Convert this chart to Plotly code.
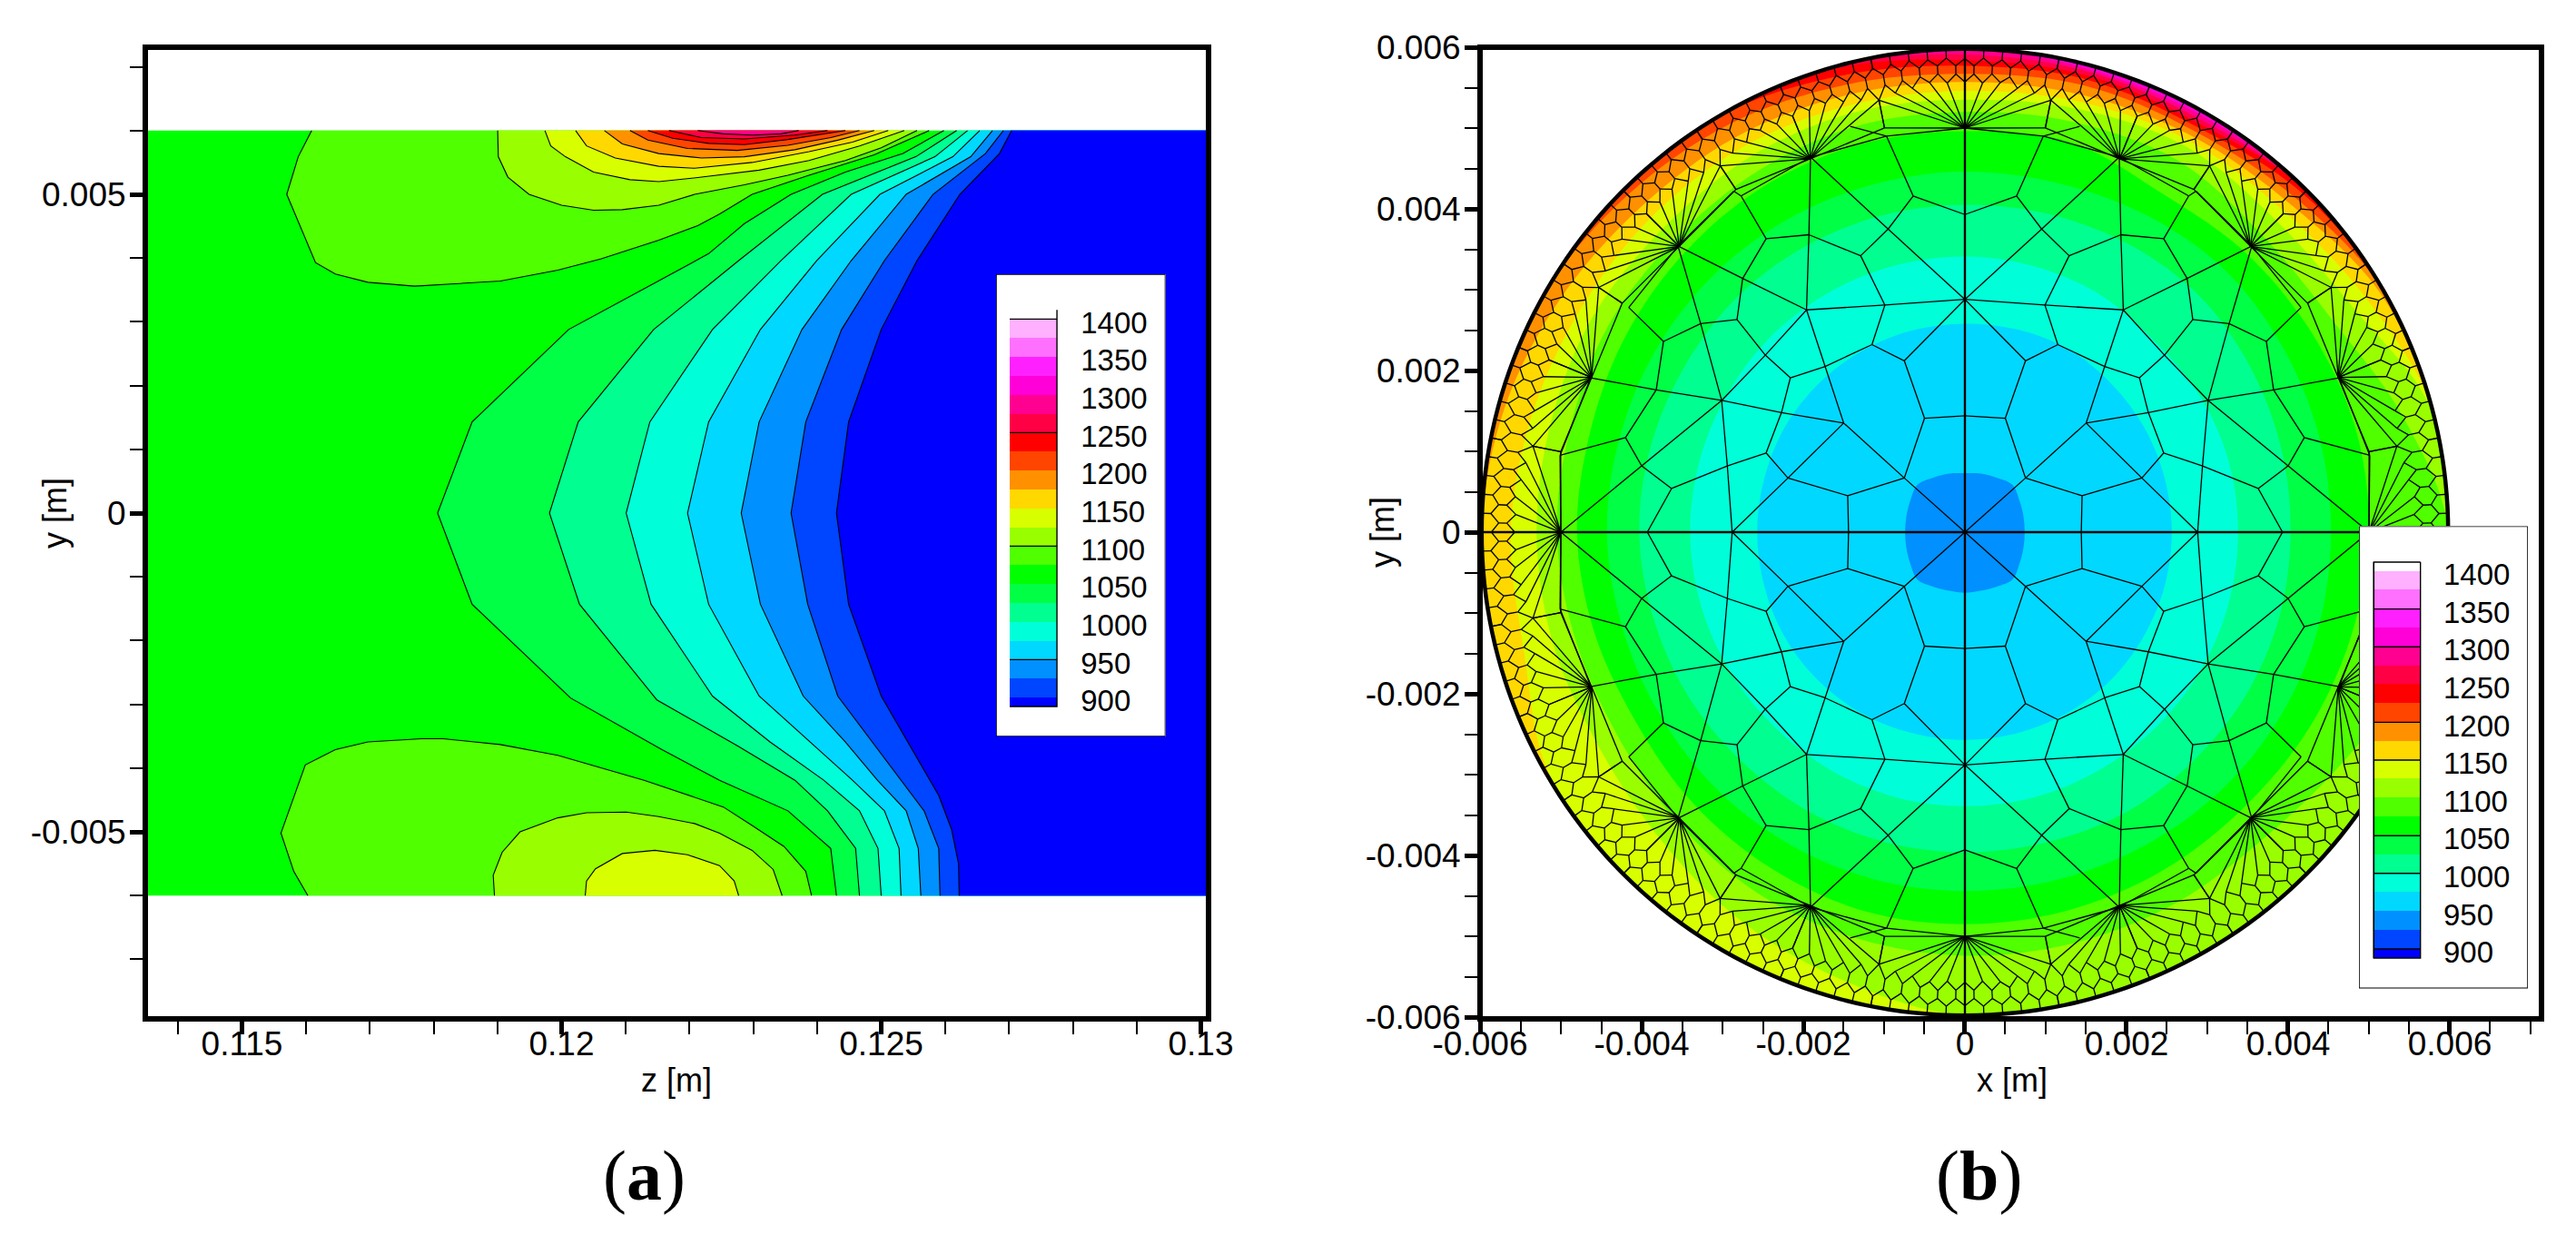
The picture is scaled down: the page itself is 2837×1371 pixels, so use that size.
import numpy as np
import plotly.graph_objects as go

W, H = 2837, 1371
# ---------- legend / colour bands (temperature levels) ----------
legend_labels = [900, 950, 1000, 1050, 1100, 1150, 1200, 1250, 1300, 1350, 1400]
band_edges = [888, 900, 925, 950, 975, 1000, 1025, 1050, 1075, 1100, 1125, 1150, 1175,
              1200, 1225, 1250, 1275, 1300, 1325, 1350, 1375, 1400, 1412]
band_colors = ["#0000ff", "#0045ff", "#0090ff", "#00d8ff", "#00ffd8", "#00ff90", "#00ff45",
               "#00ff00", "#50ff00", "#99ff00", "#d8ff00", "#ffd800", "#ff9000", "#ff4500",
               "#ff0000", "#ff0045", "#ff0090", "#ff00d8", "#ff20ff", "#ff70ff", "#ffb0ff", "#ffffff"]
def below(level):
    return band_colors[band_edges.index(level) - 1]
def above(level):
    return band_colors[band_edges.index(level)]

# ---------- panel (a): isotherms, z [mm], y [mm] ----------
iso_1050 = ([125.98,125.34,124.44,123.59,122.86,122.30,121.46,120.11,118.60,118.06,118.60,120.14,121.57,122.47,123.54,124.21,124.30],
            [6,5.64,5.35,5.0,4.54,4.07,3.61,2.88,1.43,0,-1.43,-2.90,-3.71,-4.19,-4.67,-5.26,-6])
iso_1025 = ([126.18,125.54,124.08,122.77,121.44,120.26,119.81,120.28,121.49,122.75,123.65,124.16,124.60,124.66],
            [6,5.59,5.0,3.96,2.88,1.43,0,-1.43,-2.93,-3.65,-4.19,-4.67,-5.26,-6])
iso_1000 = ([126.35,125.84,124.53,123.43,122.36,121.38,121.01,121.40,122.36,123.26,124.10,124.66,124.95,125.00],
            [6,5.59,5.0,3.96,2.88,1.43,0,-1.43,-2.87,-3.59,-4.19,-4.67,-5.26,-6])
iso_975 = ([126.54,126.12,124.98,123.99,123.11,122.30,121.97,122.30,123.09,123.88,124.55,125.05,125.28,125.31],
           [6,5.59,5.0,3.96,2.88,1.43,0,-1.43,-2.87,-3.59,-4.19,-4.67,-5.26,-6])
iso_950 = ([126.74,126.40,125.39,124.53,123.76,123.09,122.81,123.11,123.78,124.44,124.94,125.39,125.58,125.62],
           [6,5.59,5.0,3.96,2.88,1.43,0,-1.43,-2.87,-3.59,-4.19,-4.67,-5.26,-6])
iso_925 = ([126.91,126.63,125.81,125.05,124.38,123.82,123.59,123.85,124.32,125.00,125.67,125.90,125.92],
           [6,5.64,5.0,3.96,2.88,1.43,0,-1.43,-2.87,-3.77,-4.67,-5.26,-6])
iso_900 = ([127.04,126.85,126.23,125.56,125.00,124.49,124.30,124.49,125.00,125.45,125.90,126.10,126.21,126.22],
           [6,5.64,5.0,3.96,2.88,1.43,0,-1.43,-2.87,-3.65,-4.43,-4.96,-5.50,-6])
cold_lines = {1050: iso_1050, 1025: iso_1025, 1000: iso_1000, 975: iso_975, 950: iso_950, 925: iso_925, 900: iso_900}

hot_top = {
 1075: ([116.09,115.88,115.70,116.15,116.46,116.97,117.70,119.04,119.94,120.62,121.52,122.13,122.47,122.98,123.87,124.89,125.75],
        [6,5.59,5.0,3.93,3.75,3.62,3.56,3.64,3.81,3.99,4.28,4.51,4.69,5.0,5.3,5.62,6]),
 1100: ([119.0,119.01,119.16,119.49,120.0,120.50,120.95,121.52,122.08,122.86,123.54,124.44,125.0,125.56],
        [6,5.59,5.27,5.0,4.83,4.75,4.76,4.83,5.0,5.15,5.3,5.53,5.73,6]),
 1125: ([119.74,119.83,120.06,120.50,121.07,121.52,122.19,123.09,123.87,124.66,125.36],
        [6,5.76,5.59,5.35,5.23,5.2,5.27,5.38,5.53,5.76,6]),
 1150: ([120.22,120.39,120.84,121.52,122.08,122.98,123.87,124.55,125.11],
        [6,5.76,5.57,5.44,5.41,5.5,5.67,5.82,6]),
 1175: ([120.67,120.95,121.52,122.19,122.86,123.65,124.32,124.89],
        [6,5.79,5.64,5.57,5.59,5.7,5.85,6]),
 1200: ([121.07,121.35,121.97,122.75,123.54,124.21,124.66],
        [6,5.85,5.72,5.69,5.77,5.89,6]),
 1225: ([121.35,121.74,122.30,122.86,123.54,124.44],
        [6,5.88,5.8,5.78,5.86,6]),
 1250: ([121.68,122.19,122.86,123.65,124.16],
        [6,5.89,5.87,5.93,6]),
 1275: ([122.13,122.53,122.98,123.43,123.71],
        [6,5.95,5.93,5.95,6]),
}
hot_bottom = {
 1075: ([116.03,115.81,115.61,115.99,116.46,116.97,117.81,118.15,119.04,119.94,121.29,122.53,122.98,123.48,123.82,123.91],
        [-6,-5.62,-5.02,-3.95,-3.71,-3.59,-3.54,-3.54,-3.63,-3.80,-4.19,-4.61,-4.90,-5.23,-5.62,-6]),
 1100: ([118.95,118.93,119.07,119.35,119.94,120.39,121.01,121.52,122.08,122.47,122.98,123.31,123.45],
        [-6,-5.68,-5.32,-5.0,-4.78,-4.70,-4.69,-4.76,-4.87,-5.02,-5.29,-5.59,-6]),
 1125: ([120.37,120.39,120.53,120.95,121.46,121.97,122.47,122.70,122.77],
        [-6,-5.77,-5.58,-5.34,-5.29,-5.36,-5.53,-5.77,-6]),
}

# ---------- panel (b): isotherm radius [mm] per angle [deg] ----------
iso_angles = [0,15,30,45,60,75,90,105,120,135,150,165,180,195,210,225,240,255,270,285,300,315,330,345]
C = 5.98
r_950 = [.74,.75,.78,.83,.78,.75,.73,.75,.78,.83,.78,.75,.74,.75,.78,.83,.78,.75,.75,.75,.78,.83,.78,.75]
r_975 = [2.56,2.56,2.57,2.58,2.60,2.59,2.58,2.58,2.58,2.58,2.58,2.57,2.57,2.57,2.58,2.58,2.58,2.57,2.57,2.57,2.57,2.57,2.56,2.56]
r_1000 = [3.38,3.38,3.36,3.33,3.38,3.40,3.41,3.41,3.41,3.41,3.40,3.40,3.40,3.39,3.38,3.37,3.38,3.39,3.39,3.39,3.38,3.38,3.38,3.38]
r_1025 = [4.03,4.05,4.08,4.12,4.10,4.07,4.05,4.05,4.05,4.05,4.03,4.03,4.03,4.0,3.98,3.96,3.96,3.96,3.96,3.97,4.0,4.0,4.02,4.03]
r_1050 = [4.53,4.54,4.55,4.57,4.52,4.47,4.46,4.45,4.45,4.45,4.44,4.43,4.43,4.40,4.40,4.42,4.43,4.44,4.44,4.45,4.47,4.50,4.52,4.53]
r_1075 = [5.0,5.0,4.95,4.9,4.85,5.0,4.96,4.97,4.95,4.9,4.85,4.8,4.8,4.75,4.7,4.75,4.8,4.85,4.85,4.85,4.85,4.85,4.9,4.95]
r_1100 = [C,5.6,5.25,5.2,5.3,5.25,5.2,5.2,5.15,5.1,5.1,5.05,5.05,5.0,4.98,5.05,5.15,5.2,5.24,5.26,5.28,5.3,5.5,5.85]
r_1125 = [C,5.96,5.55,5.45,5.5,5.42,5.35,5.37,5.35,5.3,5.32,5.3,5.3,5.28,5.25,5.35,5.55,5.75,C,C,C,C,C,C]
r_1150 = [C,C,5.75,5.6,5.58,5.51,5.46,5.47,5.5,5.5,5.5,5.55,5.62,5.65,5.95,C,C,C,C,C,C,C,C,C]
r_1175 = [C,C,5.93,5.72,5.65,5.6,5.57,5.6,5.65,5.68,5.78,5.9,C,C,C,C,C,C,C,C,C,C,C,C]
r_1200 = [C,C,C,5.82,5.72,5.72,5.67,5.73,5.83,5.9,C,C,C,C,C,C,C,C,C,C,C,C,C,C]
r_1225 = [C,C,C,5.92,5.78,5.8,5.77,5.85,5.97,C,C,C,C,C,C,C,C,C,C,C,C,C,C,C]
r_1250 = [C,C,C,C,5.83,5.85,5.84,5.95,C,C,C,C,C,C,C,C,C,C,C,C,C,C,C,C]
r_1275 = [C,C,C,C,5.88,5.9,5.91,C,C,C,C,C,C,C,C,C,C,C,C,C,C,C,C,C]
r_1300 = [C,C,C,C,5.93,5.93,C,C,C,C,C,C,C,C,C,C,C,C,C,C,C,C,C,C]
b_levels = {1300:r_1300,1275:r_1275,1250:r_1250,1225:r_1225,1200:r_1200,1175:r_1175,1150:r_1150,1125:r_1125,
            1100:r_1100,1075:r_1075,1050:r_1050,1025:r_1025,1000:r_1000,975:r_975,950:r_950}

# ---------- panel (b): mesh, upper-left quadrant nodes [mm] ----------
nodes = dict(O=(0,0),A=(-.75,.67),B=(-1.50,1.35),Cc=(0,1.44),D=(-.50,1.41),E=(-1.45,.45),E0=(-1.44,0),F=(-2.88,0),G=(-2.19,.67),
 H=(-.75,2.12),I=(-1.15,2.32),J=(-1.73,2.05),K=(-2.16,1.91),L=(-2.47,2.19),M=(-2.27,1.48),N=(-3.01,1.63),Oo=(-2.46,.98),
 P=(-2.94,.82),Q=(-3.63,.54),Q0=(-3.93,0),R=(-4.0,.82),S=(-4.2,1.17),T=(-5.01,.95),T0=(-5.0,0),U=(-3.82,1.76),V=(-4.63,1.91),
 W=(-3.73,2.36),X=(-4.16,2.78),Y=(-3.55,3.54),Z=(-3.27,2.58),a=(-2.82,2.63),b=(-2.75,3.14),c=(-1.96,2.75),d=(-.99,2.81),
 e=(0,2.88),f=(-1.29,3.42),g=(-1.93,3.68),h=(-2.46,3.63),i=(-2.77,4.16),i2=(-2.86,4.22),j=(-1.91,4.64),k=(-.95,3.75),l=(-.64,4.16),
 m=(0,3.93),n=(0,5.0),o=(-.97,4.9),p=(-1.42,5.02))
mesh_chains = [["O","A","B","J","c","g","j"],["A","D","H","e"],["D","Cc"],["A","E","E0"],["E","G","B"],["G","F"],
 ["G","Oo","M","K","J"],["Oo","P","Q","Q0"],["N","P","F"],["Q","R","S","U"],["S","T","T0"],["T0","R","N"],
 ["V","U","N","M","B"],["U","W","X"],["W","Z","a","b"],["a","L","K"],["L","N"],["L","c"],["J","I","d","f","g","h","i","j"],
 ["Y","b","c","d","e"],["h","b"],["Y","Z","N"],["I","H"],["f","k","j"],["k","e"],["k","l","m"],["l","o"],["j","o","n"],
 ["i","i2","Y"],["T","V"],["X","Y"],["o","p"]]

# rim motif around each star node: half-sector offsets [deg] and radii [mm]
star_radius = 5.0
motif_a_dth = [0, 2.25, 4.5, 6.75, 9.0, 11.25]
motif_a_r = [5.57, 5.56, 5.58, 5.53, 5.50, 5.45]
motif_d_r = [5.86, 5.87, 5.86, 5.87, 5.86, 5.85]
motif_b_dth = [1.125, 3.375, 5.625, 7.875, 10.125]
motif_b_r = [5.67, 5.68, 5.66, 5.64, 5.62]
motif_c_r = [5.77, 5.78, 5.77, 5.76, 5.75]
motif_mid_r = [5.10, 5.45]
n_stars = 16

def pol(r, th):
    t = np.radians(th)
    return r*np.cos(t), r*np.sin(t)

# ---------- mesh segment building ----------
mx, my = [], []
def seg(x1, y1, x2, y2):
    mx.extend([x1, x2, None]); my.extend([y1, y2, None])
for sx, sy in [(1,1),(-1,1),(1,-1),(-1,-1)]:
    for ch in mesh_chains:
        for a_, b_ in zip(ch[:-1], ch[1:]):
            seg(sx*nodes[a_][0], sy*nodes[a_][1], sx*nodes[b_][0], sy*nodes[b_][1])
for k in range(n_stars):
    phi = k*360/n_stars
    sx0, sy0 = pol(star_radius, phi)
    for s in (1, -1):
        A_ = [pol(r, phi+s*d) for r, d in zip(motif_a_r, motif_a_dth)]
        D_ = [pol(r, phi+s*d) for r, d in zip(motif_d_r, motif_a_dth)]
        B_ = [pol(r, phi+s*d) for r, d in zip(motif_b_r, motif_b_dth)]
        C_ = [pol(r, phi+s*d) for r, d in zip(motif_c_r, motif_b_dth)]
        for p_ in A_:
            seg(sx0, sy0, *p_)
        seg(sx0, sy0, *pol(motif_mid_r[0], phi+s*11.25))
        seg(*pol(motif_mid_r[0], phi+s*11.25), *pol(motif_mid_r[1], phi+s*11.25))
        for i_ in range(5):
            seg(*A_[i_], *B_[i_]); seg(*B_[i_], *A_[i_+1])
            seg(*B_[i_], *C_[i_])
            seg(*C_[i_], *D_[i_]); seg(*C_[i_], *D_[i_+1])
        for i_, d in enumerate(motif_a_dth):
            seg(*D_[i_], *pol(C, phi+s*d))
mm = lambda v: [None if q is None else q/1000 for q in v]

# ---------- figure ----------
fig = go.Figure()
def line_fill(x, y, color, xa, ya, shape="linear"):
    fig.add_trace(go.Scatter(x=x, y=y, mode="lines", fill="toself", fillcolor=color, xaxis=xa, yaxis=ya,
                             line=dict(width=0, shape=shape), hoverinfo="skip", showlegend=False))
def line_only(x, y, width, xa, ya, shape="linear"):
    fig.add_trace(go.Scatter(x=x, y=y, mode="lines", xaxis=xa, yaxis=ya,
                             line=dict(width=width, color="black", shape=shape), hoverinfo="skip", showlegend=False))

# panel a
data_left, data_right = 113.0, 131.0
line_fill(mm([data_left, data_right, data_right, data_left, data_left]), mm([-6, -6, 6, 6, -6]), "#00ff00", "x", "y")
for lev, (zs, ys) in cold_lines.items():
    line_fill(mm(zs+[data_right, data_right, zs[0]]), mm(ys+[-6, 6, 6]), below(lev), "x", "y")
for blobs in (hot_top, hot_bottom):
    for lev, (zs, ys) in blobs.items():
        line_fill(mm(zs+[zs[0]]), mm(ys+[ys[0]]), above(lev), "x", "y")
for group in (cold_lines, hot_top, hot_bottom):
    for lev, (zs, ys) in group.items():
        line_only(mm(zs), mm(ys), 1.1, "x", "y")

# panel b
theta = np.radians(iso_angles + [360])
disc = np.radians(np.arange(0, 361, 3))
line_fill(mm(list(C*np.cos(disc))), mm(list(C*np.sin(disc))), above(1300), "x2", "y2")
for lev, rr in b_levels.items():
    rr2 = np.array(rr + [rr[0]])
    line_fill(mm(list(rr2*np.cos(theta))), mm(list(rr2*np.sin(theta))), below(lev), "x2", "y2", "spline")
line_only(mm(mx), mm(my), 1.3, "x2", "y2")
line_only(mm([-C, C, None, 0, 0]), mm([0, 0, None, -C, C]), 2.4, "x2", "y2")
line_only(mm(list(C*np.cos(disc))), mm(list(C*np.sin(disc))), 4.5, "x2", "y2", "spline")

# legends
lowers = band_edges[:-1]
widths = [b_-a_ for a_, b_ in zip(band_edges[:-1], band_edges[1:])]
def legend(xa, ya, ymin, ymax, bar_x, bar_w, text_x, line_levels, outline):
    fig.add_trace(go.Bar(x=[0.5], y=[ymax-ymin], base=[ymin], width=[1], xaxis=xa, yaxis=ya, cliponaxis=False,
                         marker=dict(color="white", line=dict(width=0)),
                         hoverinfo="skip", showlegend=False))
    fig.add_trace(go.Bar(x=[bar_x]*len(lowers), y=widths, base=lowers, width=[bar_w]*len(lowers), xaxis=xa, yaxis=ya,
                         marker=dict(color=band_colors, line=dict(width=0)), hoverinfo="skip", showlegend=False))
    fig.add_trace(go.Scatter(x=[0, 1, 1, 0, 0], y=[ymin, ymin, ymax, ymax, ymin], mode="lines", xaxis=xa, yaxis=ya,
                             cliponaxis=False, line=dict(color="black", width=1.6), hoverinfo="skip", showlegend=False))
    xl, xr = bar_x-bar_w/2, bar_x+bar_w/2
    lx, ly = [], []
    for lv in line_levels:
        lx += [xl, xr, None]; ly += [lv, lv, None]
    lx += [xr, xr, xl]; ly += [band_edges[-1], band_edges[0], band_edges[0]]
    if outline:
        lx += [xl, xr]; ly += [band_edges[-1], band_edges[-1]]
        lx += [None, xl, xl]; ly += [None, band_edges[-1], band_edges[0]]
    fig.add_trace(go.Scatter(x=lx, y=ly, mode="lines", xaxis=xa, yaxis=ya, line=dict(color="black", width=1.4),
                             hoverinfo="skip", showlegend=False))
    fig.add_trace(go.Scatter(x=[text_x]*len(legend_labels), y=[v-8.5 for v in legend_labels], mode="text",
                             text=[str(v) for v in legend_labels], textposition="middle right", xaxis=xa, yaxis=ya,
                             textfont=dict(family="Liberation Sans", size=33, color="black"),
                             hoverinfo="skip", showlegend=False))
legend("x3", "y3", 848.4, 1459.2, 0.22, 0.279, 0.50, [950, 1100, 1250, 1400], False)
legend("x4", "y4", 847.8, 1459.6, 0.2258, 0.276, 0.50, [900, 1000, 1050, 1150, 1200, 1300, 1350], True)

# axes
tick_font = dict(family="Liberation Sans", size=37, color="black")
title_font = dict(family="Liberation Sans", size=36, color="black")
def xdom(a, b): return [a/W, b/W]
def ydom(t, b): return [1-b/H, 1-t/H]
def axis(dom, rng, vals, text, minor_vals, anchor, label_off):
    return dict(domain=dom, range=rng, anchor=anchor, tickmode="array", tickvals=vals, ticktext=text,
                ticks="outside", ticklen=16, tickwidth=4.5, tickcolor="black", tickfont=tick_font,
                showgrid=False, zeroline=False, showline=False, ticklabelstandoff=label_off, automargin=False,
                minor=dict(tickmode="array", tickvals=minor_vals, ticks="outside", ticklen=16, tickwidth=1.5,
                           tickcolor="black", showgrid=False))

zt = [0.115, 0.12, 0.125, 0.13]
zminor = [round(0.114+0.001*i, 3) for i in range(17)]
yat = [-0.005, 0, 0.005]
yaminor = [round(-0.007+0.001*i, 3) for i in range(15)]
bt = [-0.006, -0.004, -0.002, 0, 0.002, 0.004, 0.006]
bminor = [round(-0.006+0.0005*i, 4) for i in range(27)]
bminory = [round(-0.006+0.0005*i, 4) for i in range(25)]
btext = ["-0.006", "-0.004", "-0.002", "0", "0.002", "0.004", "0.006"]

def label(text, px, py, font, angle=0):
    return dict(text=text, x=px/W, y=1-py/H, xref="paper", yref="paper", showarrow=False, textangle=angle,
                xanchor="center", yanchor="middle", font=font)
serif = dict(family="Liberation Serif", size=78, color="black")

fig.update_layout(
    width=W, height=H, margin=dict(l=0, r=0, t=0, b=0, autoexpand=False), paper_bgcolor="white", plot_bgcolor="white",
    showlegend=False, barmode="overlay", bargap=0,
    xaxis=axis(xdom(160, 1331), [0.113487, 0.130121], zt, ["0.115", "0.12", "0.125", "0.13"], zminor, "y", -21),
    yaxis=axis(ydom(52, 1122), [-0.007934, 0.007308], yat, ["-0.005", "0", "0.005"], yaminor, "x", -3),
    xaxis2=axis(xdom(1630, 2799), [-0.006, 0.007135], bt, btext, bminor, "y2", -21),
    yaxis2=axis(ydom(52, 1122), [-0.006022, 0.006], bt, btext, bminory, "x2", -3),
    xaxis3=dict(domain=xdom(1097, 1283.5), range=[0, 1], visible=False, anchor="y3"),
    yaxis3=dict(domain=ydom(302, 811), range=[848.4, 1459.2], visible=False, anchor="x3"),
    xaxis4=dict(domain=xdom(2598, 2784), range=[0, 1], visible=False, anchor="y4"),
    yaxis4=dict(domain=ydom(579.4, 1088.4), range=[847.8, 1459.6], visible=False, anchor="x4"),
    shapes=[dict(type="rect", xref="paper", yref="paper", x0=160/W, x1=1331/W, y0=1-1122/H, y1=1-52/H,
                 line=dict(color="black", width=6), layer="above"),
            dict(type="rect", xref="paper", yref="paper", x0=1630/W, x1=2799/W, y0=1-1122/H, y1=1-52/H,
                 line=dict(color="black", width=6), layer="above")],
    annotations=[label("(<b>a</b>)", 709, 1294, serif), label("(<b>b</b>)", 2179, 1294, serif),
                 label("z [m]", 745, 1189, title_font), label("x [m]", 2216, 1189, title_font),
                 label("y [m]", 60, 565, title_font, -90), label("y [m]", 1522, 586, title_font, -90)],
)
fig.write_html("out.html", config=dict(displayModeBar=False),
               post_script="document.body.style.margin='0';document.documentElement.style.margin='0';")
